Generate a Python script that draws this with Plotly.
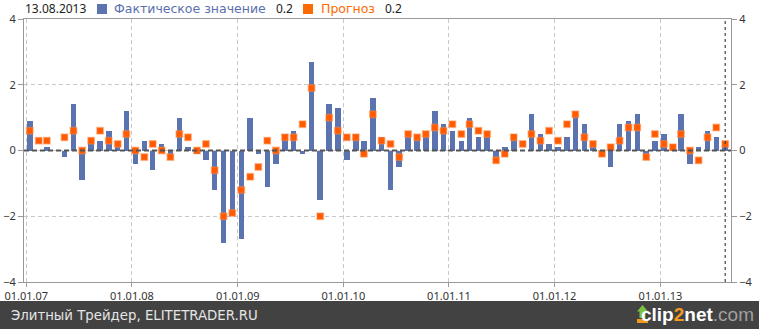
import pandas as pd
import plotly.graph_objects as go

# Monthly release: actual value vs. forecast, Jan 2007 .. Aug 2013 (April 2007 absent)
months = pd.date_range("2007-01-01", "2013-08-01", freq="MS") + pd.Timedelta(days=12)

actual = [
    0.9, 0.0, 0.1, None, -0.2, 1.4, -0.9, 0.3, 0.3, 0.6, 0.2, 1.2,      # 2007
    -0.4, 0.3, -0.6, 0.2, -0.2, 1.0, 0.1, -0.1, -0.3, -1.2, -2.8, -1.8,  # 2008
    -2.7, 1.0, -0.1, -1.1, -0.4, 0.5, 0.6, -0.1, 2.7, -1.5, 1.4, 1.3,    # 2009
    -0.3, 0.5, 0.3, 1.6, 0.4, -1.2, -0.5, 0.4, 0.4, 0.6, 1.2, 0.8,       # 2010
    0.6, 0.3, 1.0, 0.4, 0.5, -0.2, 0.1, 0.5, 0.0, 1.1, 0.5, 0.2,         # 2011
    0.1, 0.4, 1.1, 0.8, 0.1, 0.0, -0.5, 0.8, 0.9, 1.1, -0.3, 0.3,        # 2012
    0.5, 0.1, 1.1, -0.4, 0.1, 0.6, 0.4, 0.2,                             # 2013
]
forecast = [
    0.6, 0.3, 0.3, None, 0.4, 0.6, 0.0, 0.3, 0.6, 0.3, 0.2, 0.5,
    0.0, -0.2, 0.2, 0.0, -0.2, 0.5, 0.4, 0.0, 0.2, -0.6, -2.0, -1.9,
    -1.2, -0.8, -0.5, 0.3, 0.0, 0.4, 0.4, 0.8, 1.9, -2.0, 1.0, 0.6,
    0.4, 0.4, -0.1, 1.1, 0.3, 0.2, -0.2, 0.5, 0.4, 0.5, 0.7, 0.6,
    0.8, 0.5, 0.8, 0.6, 0.5, -0.3, -0.1, 0.4, 0.2, 0.5, 0.3, 0.6,
    0.3, 0.8, 1.1, 0.4, 0.2, -0.1, 0.1, 0.3, 0.7, 0.7, -0.2, 0.5,
    0.2, 0.1, 0.5, 0.0, -0.3, 0.4, 0.7, 0.2,
]

year_ticks = ["2007-01-01", "2008-01-01", "2009-01-01", "2010-01-01",
              "2011-01-01", "2012-01-01", "2013-01-01"]
year_labels = ["01.01.07", "01.01.08", "01.01.09", "01.01.10",
               "01.01.11", "01.01.12", "01.01.13"]
y_ticks = [-4, -2, 0, 2, 4]

last_date = "2013-08-13"
last_label = "13.08.2013"
legend_actual = "Фактическое значение"
legend_forecast = "Прогноз"
footer_left = "Элитный Трейдер, ELITETRADER.RU"

BLUE = "#5b74b0"
ORANGE = "#ff5a00"
FONT = "Noto Sans"
TEXT_FONT = "DejaVu Sans"

W, H = 759, 329
L, R, T, B = 24, 731, 19, 282          # plot area in pixels


def px(x):
    return (x - L) / (R - L)


def py(y):
    return (B - y) / (B - T)


bar_width = [19 * 86400000] * len(months)

fig = go.Figure()
fig.add_trace(go.Bar(
    x=months, y=actual, width=bar_width, marker=dict(color=BLUE, line_width=0),
    name=legend_actual, showlegend=False,
))
fig.add_trace(go.Scatter(
    x=months, y=forecast, mode="markers", name=legend_forecast, showlegend=False,
    marker=dict(symbol="square", size=6.5, color=ORANGE,
                line=dict(width=1.5, color="rgba(255,140,70,0.45)")),
))
# invisible trace that keeps the right-hand value axis alive
fig.add_trace(go.Scatter(x=[months[0]], y=[0], yaxis="y2", mode="markers",
                         marker=dict(opacity=0), showlegend=False, hoverinfo="skip"))

shapes = [
    # dashed zero line
    dict(type="line", xref="paper", yref="y", x0=0, x1=1, y0=0, y1=0,
         line=dict(color="#555555", width=2, dash="5px,3px"), layer="above"),
    # current release date
    dict(type="line", xref="x", yref="paper", x0=last_date, x1=last_date, y0=0, y1=1,
         line=dict(color="#444444", width=1.2, dash="3px,3px"), layer="above"),
    # legend swatches
    dict(type="rect", xref="paper", yref="paper", x0=px(97), x1=px(107), y0=py(14), y1=py(4),
         fillcolor=BLUE, line_width=0),
    dict(type="rect", xref="paper", yref="paper", x0=px(303), x1=px(313), y0=py(14), y1=py(4),
         fillcolor="#ff6a00", line_width=0),
    # footer bar
    dict(type="rect", xref="paper", yref="paper", x0=px(0), x1=px(W), y0=py(H), y1=py(301),
         fillcolor="#424242", line_width=0, layer="above"),
    # upload arrow of the footer logo
    dict(type="path", xref="paper", yref="paper",
         path="M {} {} L {} {} L {} {} L {} {} L {} {} L {} {} L {} {} Z".format(
             px(642.5), py(305), px(648), py(311.5), px(645.5), py(311.5),
             px(645.5), py(318), px(639.5), py(318), px(639.5), py(311.5), px(637), py(311.5)),
         fillcolor="#7cc242", line_width=0, layer="above"),
    dict(type="rect", xref="paper", yref="paper", x0=px(637), x1=px(648), y0=py(323), y1=py(319),
         fillcolor="#f29a1f", line_width=0, layer="above"),
]

annotations = [
    dict(text=last_label, x=px(23), y=py(9), xanchor="left", yanchor="middle",
         font=dict(size=12, color="#222222")),
    dict(text=legend_actual, x=px(112), y=py(9), xanchor="left", yanchor="middle",
         font=dict(size=12.5, color="#5a6fae", family=TEXT_FONT)),
    dict(text="0.2", x=px(274), y=py(9), xanchor="left", yanchor="middle",
         font=dict(size=12, color="#222222")),
    dict(text=legend_forecast, x=px(319), y=py(9), xanchor="left", yanchor="middle",
         font=dict(size=12.5, color="#ff6a00", family=TEXT_FONT)),
    dict(text="0.2", x=px(383), y=py(9), xanchor="left", yanchor="middle",
         font=dict(size=12, color="#222222")),
    dict(text=footer_left, x=px(9), y=py(315), xanchor="left", yanchor="middle",
         font=dict(size=13.3, color="#e6e6e6", family=TEXT_FONT)),
    dict(text="<b>clip</b><span style='color:#f29a1f'><b>2</b></span><b>net</b>"
              "<span style='color:#a0a0a0'>.com</span>",
         x=px(756), y=py(314), xanchor="right", yanchor="middle",
         font=dict(size=19, color="#ffffff", family="Liberation Sans")),
]
for a in annotations:
    a.update(xref="paper", yref="paper", showarrow=False)
    a["font"].setdefault("family", FONT)

axis_font = dict(family=FONT, size=11, color="#333333")

fig.update_layout(
    width=W, height=H,
    margin=dict(l=L, r=W - R, t=T, b=H - B, pad=0, autoexpand=False),
    paper_bgcolor="#ffffff", plot_bgcolor="#ffffff",
    bargap=0, showlegend=False,
    shapes=shapes, annotations=annotations,
    xaxis=dict(
        type="date", range=["2006-12-24", "2013-09-02"], automargin=False,
        tickvals=year_ticks, ticktext=year_labels, tickfont=axis_font,
        showgrid=True, gridcolor="#c8c8c8", griddash="4px,3px", gridwidth=1,
        showline=True, linecolor="#999999", linewidth=1, mirror=True,
        ticks="outside", ticklen=4, tickcolor="#999999", zeroline=False,
    ),
    yaxis=dict(
        range=[-4, 4], tickvals=y_ticks, tickfont=axis_font, automargin=False,
        showgrid=True, gridcolor="#c8c8c8", griddash="4px,3px", gridwidth=1,
        showline=True, linecolor="#999999", linewidth=1, mirror=True,
        ticks="outside", ticklen=5, tickcolor="#999999", zeroline=False,
    ),
    yaxis2=dict(
        range=[-4, 4], tickvals=y_ticks, tickfont=axis_font, overlaying="y", side="right",
        automargin=False, showgrid=False, showline=False,
        ticks="outside", ticklen=5, tickcolor="#999999", zeroline=False,
    ),
)

fig.write_html("out.html")
